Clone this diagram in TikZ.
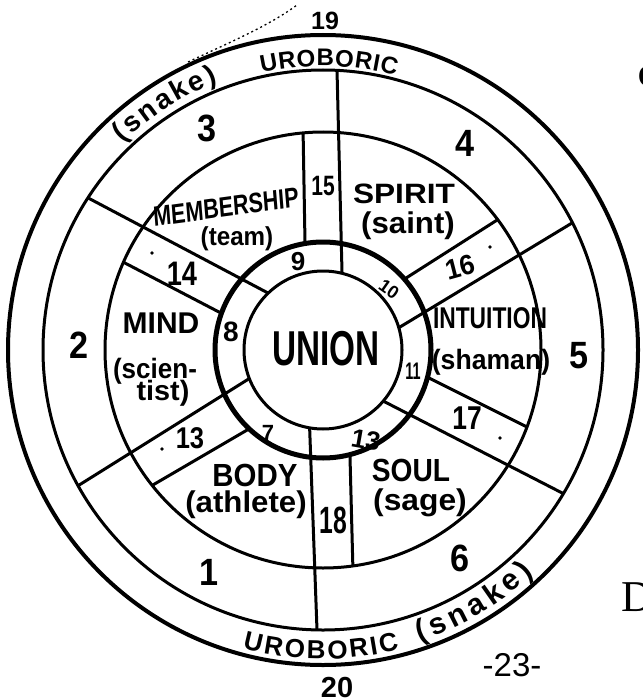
\documentclass[tikz,border=0pt]{standalone}
\usepackage{fontspec}
\newfontfamily\hand{Liberation Sans}
\newfontfamily\serifD{Liberation Serif}
\usetikzlibrary{calc,decorations.text}
\newcommand\hfs[1]{\fontsize{#1}{#1}\selectfont}
\begin{document}
\begin{tikzpicture}[x=1pt,y=1pt,
  lab/.style={inner sep=0pt, font=\hand\bfseries},
  ln/.style={line width=3pt},
  arctext/.style={decorate, decoration={text along path, text align=fit to path, text={#1}}}
]
\useasboundingbox (0,0) rectangle (642,-698);
\coordinate (C) at (323,-350);
% long lines (outer point a, inner point b)
\coordinate (La1) at (337,-70);  \coordinate (Lb1) at (342,-272);
\coordinate (La2) at (577,-220); \coordinate (Lb2) at (400,-327);
\coordinate (La3) at (570,-497); \coordinate (Lb3) at (387,-403);
\coordinate (La4) at (317,-630); \coordinate (Lb4) at (310,-438);
\coordinate (La5) at (84,-482);  \coordinate (Lb5) at (247,-380);
\coordinate (La6) at (92,-200);  \coordinate (Lb6) at (268,-293);
% short lines
\coordinate (Sa1) at (303,-127); \coordinate (Sb1) at (305,-243);
\coordinate (Sa2) at (505,-215); \coordinate (Sb2) at (403,-280);
\coordinate (Sa3) at (533,-430); \coordinate (Sb3) at (427,-377);
\coordinate (Sa4) at (353,-572); \coordinate (Sb4) at (350,-457);
\coordinate (Sa5) at (158,-482); \coordinate (Sb5) at (242,-433);
\coordinate (Sa6) at (123,-262); \coordinate (Sb6) at (217,-311);

\begin{scope}
  \clip (C) circle[radius=218];
  \foreach \n in {1,...,6}
    \draw[ln] ($(Sb\n)!1.3!(Sa\n)$) -- ($(Sa\n)!1.3!(Sb\n)$);
\end{scope}
\fill[white] (C) circle[radius=108];
\begin{scope}
  \clip (C) circle[radius=280];
  \foreach \n in {1,...,6}
    \draw[ln] ($(Lb\n)!1.3!(La\n)$) -- ($(La\n)!1.3!(Lb\n)$);
\end{scope}
\fill[white] (C) circle[radius=79];

\draw[line width=4pt] (C) circle[radius=315];
\draw[ln] (C) circle[radius=280];
\draw[ln] (C) circle[radius=218];
\draw[line width=5pt] (C) circle[radius=108];
\draw[ln] (C) circle[radius=79];

% stray dotted trace at top
\draw[line width=1.3pt, dash pattern=on 2pt off 3pt] (188,-62) .. controls (235,-40) and (270,-25) .. (297,-5);

% ring texts
\begin{scope}[shift={(323,-350)}]
  \path[arctext={|\hand\bfseries\hfs{24}|UROBORIC}] (102.5:284) arc[start angle=102.5, end angle=75.1, radius=284];
  \path[arctext={|\hand\bfseries\hfs{28}|(snake)}] (134:288) arc[start angle=134, end angle=111.4, radius=288];
  \path[arctext={|\hand\bfseries\hfs{26}|UROBORIC}] (-105.1:309) arc[start angle=-105.1, end angle=-75.7, radius=309];
  \path[arctext={|\hand\bfseries\hfs{30}|(snake)}] (-71.7:307) arc[start angle=-71.7, end angle=-46.7, radius=307];
\end{scope}

% outer numbers
\node[lab] (n19) at (325,-21) {\hfs{25}19};
\node[lab] (n20) at (337,-688) {\hfs{29}20};
\node[lab, xscale=.9] (n3) at (207,-128) {\hfs{38}3};
\node[lab, xscale=.9] (n4) at (465,-143) {\hfs{38}4};
\node[lab, xscale=.9] (n2) at (79,-345) {\hfs{38}2};
\node[lab, xscale=.9] (n5) at (579,-356) {\hfs{38}5};
\node[lab, xscale=.9] (n1) at (209,-572) {\hfs{38}1};
\node[lab, xscale=.9] (n6) at (460,-558) {\hfs{38}6};

% band numbers
\node[lab, xscale=.75] (n15) at (323,-186) {\hfs{28}15};
\node[lab, xscale=.95, rotate=15] (n16) at (460,-267) {\hfs{28}16};
\node[lab, xscale=.8] (n17) at (467,-418) {\hfs{33}17};
\node[lab, xscale=.65] (n18) at (333,-520) {\hfs{38}18};
\node[lab, xscale=.85] (n13b) at (190,-438) {\hfs{30}13};
\node[lab, xscale=.8] (n14) at (182,-274) {\hfs{34}14};

% dots
\fill (152,-253) circle[radius=1.8];
\fill (490,-247) circle[radius=1.8];
\fill (500,-438) circle[radius=1.8];
\fill (162,-449) circle[radius=1.8];

% inner ring numbers
\node[lab] (n9) at (298,-262) {\hfs{26}9};
\node[lab, rotate=-35] (n10) at (389,-289) {\hfs{18}10};
\node[lab, xscale=.6] (n11) at (413,-371) {\hfs{24}11};
\node[lab, rotate=-10] (n13r) at (366,-440) {\hfs{26}13};
\node[lab] (n7) at (268,-433) {\hfs{22}7};
\node[lab] (n8) at (231,-332) {\hfs{28}8};

% sector labels
\node[lab, xscale=.77, rotate=6] (membership) at (226,-207) {\hfs{28}MEMBERSHIP};
\node[lab, xscale=.93] (team) at (237,-239) {\hfs{26}(team)};
\node[lab, xscale=1.13] (spirit) at (404,-194) {\hfs{28}SPIRIT};
\node[lab, xscale=1.04] (saint) at (408,-226) {\hfs{30}(saint)};
\node[lab, xscale=.76] (intuition) at (490,-318) {\hfs{30}INTUITION};
\node[lab, xscale=.95] (shaman) at (491,-362) {\hfs{28}(shaman)};
\node[lab, xscale=.88] (soul) at (411,-470) {\hfs{32}SOUL};
\node[lab, xscale=1.06] (sage) at (420,-503) {\hfs{30}(sage)};
\node[lab, xscale=.92] (body) at (255,-475) {\hfs{32}BODY};
\node[lab, xscale=1.04] (athlete) at (246,-505) {\hfs{30}(athlete)};
\node[lab] (mind) at (161,-323) {\hfs{30}MIND};
\node[lab, xscale=.93] (scien) at (155,-371) {\hfs{28}(scien-};
\node[lab, xscale=1.03] (tist) at (163,-393) {\hfs{28}tist)};
\node[lab, xscale=.68] (union) at (326,-349) {\hfs{49}UNION};

% page fragments
\node[inner sep=0pt, font=\hand] (page) at (512,-665) {\hfs{33}-23-};
\node[lab, anchor=west] (cfrag) at (638,-77) {\hfs{29}C};
\node[inner sep=0pt, font=\serifD, anchor=west] (dfrag) at (621,-597) {\hfs{44}D};
\end{tikzpicture}
\end{document}
